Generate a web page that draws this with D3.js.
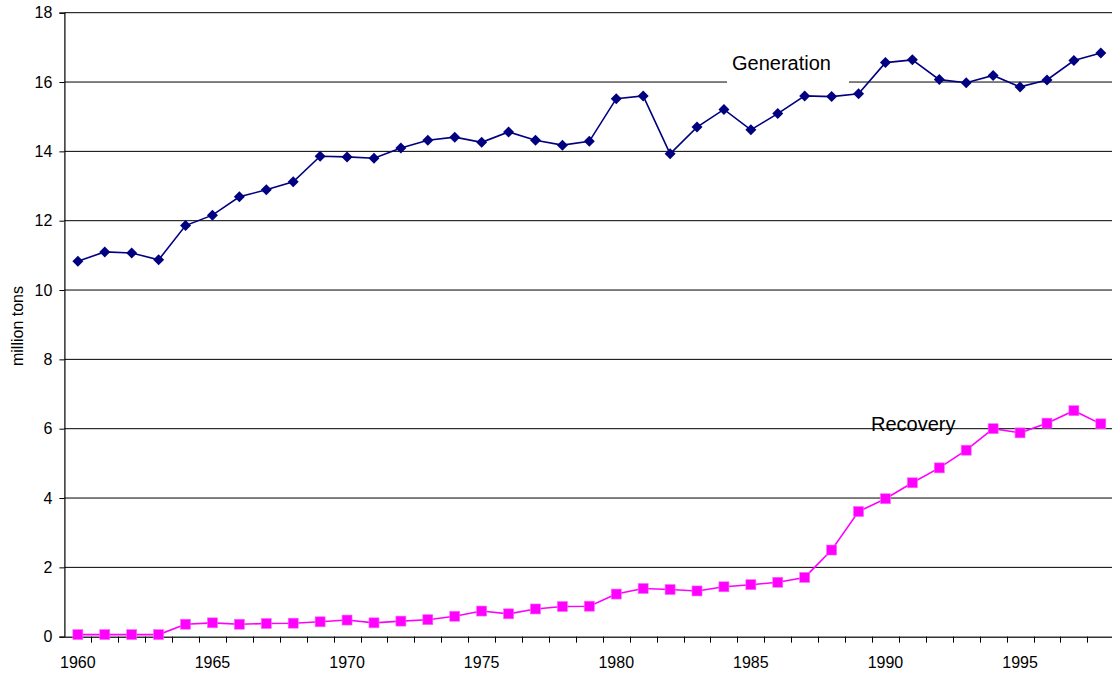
<!DOCTYPE html>
<html>
<head>
<meta charset="utf-8">
<script src="https://cdn.jsdelivr.net/npm/d3@7"></script>
<style>
  html, body { margin: 0; padding: 0; background: #fff; }
  svg { display: block; font-family: "Liberation Sans", Arial, sans-serif; }
</style>
</head>
<body>
<svg id="chart" width="1112" height="677"></svg>
<script>
const years = d3.range(1960, 1999);
const generation = [10.83, 11.10, 11.07, 10.87, 11.86, 12.16, 12.69, 12.89, 13.12, 13.86,
  13.84, 13.80, 14.10, 14.32, 14.41, 14.26, 14.56, 14.32, 14.18, 14.29,
  15.52, 15.60, 13.93, 14.70, 15.21, 14.62, 15.09, 15.60, 15.58, 15.66,
  16.56, 16.64, 16.07, 15.98, 16.19, 15.86, 16.06, 16.62, 16.84];
const recovery = [0.06, 0.06, 0.06, 0.06, 0.36, 0.40, 0.36, 0.38, 0.39, 0.43,
  0.48, 0.40, 0.45, 0.49, 0.59, 0.74, 0.66, 0.80, 0.87, 0.88,
  1.23, 1.39, 1.36, 1.32, 1.44, 1.50, 1.57, 1.71, 2.50, 3.61,
  3.98, 4.44, 4.87, 5.38, 6.00, 5.88, 6.16, 6.52, 6.14];
const yTicks = [0, 2, 4, 6, 8, 10, 12, 14, 16, 18];
const xTickLabels = [1960, 1965, 1970, 1975, 1980, 1985, 1990, 1995];
const yTitle = "million tons";
const seriesLabels = ["Generation", "Recovery"];

const svg = d3.select("#chart");
const mLeft = 64.4, mTop = 12.7, mBottom = 636.7, mRight = 1112;
const x = d3.scaleBand().domain(years).range([mLeft, mLeft + 39 * 26.92]).paddingInner(0).paddingOuter(0);
const y = d3.scaleLinear().domain([0, 18]).range([mBottom, mTop]);
const cx = d => x(d) + x.bandwidth() / 2;

// gridlines
svg.append("g").selectAll("line").data(yTicks.filter(t => t > 0)).join("line")
  .attr("x1", mLeft).attr("x2", mRight)
  .attr("y1", d => y(d)).attr("y2", d => y(d))
  .attr("stroke", "#000").attr("stroke-width", 1);

// white box behind Generation label (gap in gridline)
svg.append("rect").attr("x", 727).attr("y", 48).attr("width", 122).attr("height", 40).attr("fill", "#fff");

// y axis
const yAxis = svg.append("g").attr("transform", `translate(${mLeft},0)`)
  .call(d3.axisLeft(y).tickValues(yTicks).tickSize(5).tickPadding(7).tickFormat(d3.format("d")));
yAxis.select(".domain").attr("stroke", "#000").attr("stroke-width", 1.2);
yAxis.selectAll(".tick line").attr("stroke", "#000");
yAxis.selectAll("text").attr("font-size", 16).attr("fill", "#000")
  .attr("font-family", "Liberation Sans, Arial, sans-serif");

// x axis
const xAxis = svg.append("g").attr("transform", `translate(0,${mBottom})`)
  .call(d3.axisBottom(x).tickSize(0).tickPadding(20)
    .tickFormat(d => xTickLabels.includes(d) ? String(d) : ""));
xAxis.select(".domain").attr("stroke", "#333").attr("stroke-width", 1.6);
xAxis.selectAll("text").attr("font-size", 16).attr("fill", "#000")
  .attr("font-family", "Liberation Sans, Arial, sans-serif");
// category boundary tick marks
svg.append("g").selectAll("line").data(years.slice(1)).join("line")
  .attr("x1", d => Math.round(x(d)) + 0.5).attr("x2", d => Math.round(x(d)) + 0.5)
  .attr("y1", mBottom).attr("y2", mBottom + 6)
  .attr("stroke", "#000").attr("stroke-width", 1);

// y title
svg.append("text").attr("transform", "translate(23,326) rotate(-90)")
  .attr("text-anchor", "middle").attr("font-size", 16).attr("fill", "#000").text(yTitle);

// lines
const line = d3.line().x((d, i) => cx(years[i])).y(d => y(d));
svg.append("path").datum(generation).attr("d", line)
  .attr("fill", "none").attr("stroke", "#000080").attr("stroke-width", 1.6);
svg.append("path").datum(recovery).attr("d", line)
  .attr("fill", "none").attr("stroke", "#FF00FF").attr("stroke-width", 1.6);

// markers
svg.append("g").selectAll("path").data(generation).join("path")
  .attr("transform", (d, i) => `translate(${cx(years[i])},${y(d)})`)
  .attr("d", "M0,-5.5L5.5,0L0,5.5L-5.5,0Z")
  .attr("fill", "#000080");
svg.append("g").selectAll("rect").data(recovery).join("rect")
  .attr("x", (d, i) => cx(years[i]) - 5).attr("y", d => y(d) - 5)
  .attr("width", 10).attr("height", 10)
  .attr("fill", "#FF00FF").attr("stroke", "#FF66FF").attr("stroke-width", 0.6);

// labels
svg.append("text").attr("x", 732).attr("y", 70).attr("font-size", 20).attr("fill", "#000").text(seriesLabels[0]);
svg.append("text").attr("x", 871).attr("y", 431).attr("font-size", 20).attr("fill", "#000").text(seriesLabels[1]);
</script>
</body>
</html>
